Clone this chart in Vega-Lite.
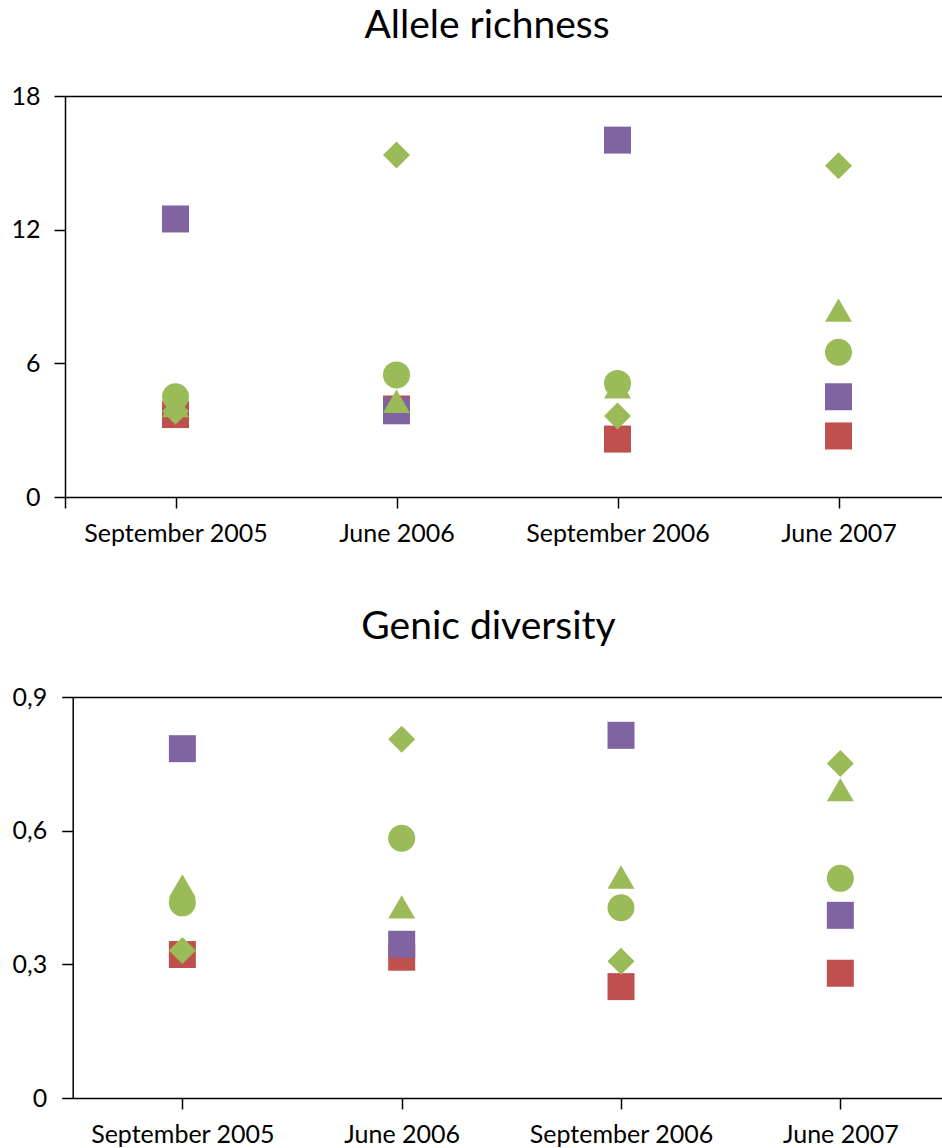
{
  "$schema": "https://vega.github.io/schema/vega-lite/v6.json",
  "padding": {"top": 7, "left": 10, "right": 0, "bottom": 0},
  "background": "white",
  "config": {
    "view": {"stroke": null},
    "font": "Lato",
    "title": {"fontSize": 39, "fontWeight": "normal", "color": "#000000", "font": "Lato"},
    "axis": {
      "domainColor": "#000000", "domainWidth": 1.5,
      "tickColor": "#000000", "tickWidth": 1.5, "tickSize": 11,
      "labelColor": "#000000", "labelFontSize": 25, "labelFont": "Lato", "labelLimit": 0,
      "title": null
    }
  },
  "datasets": {
    "allele": [
      {"period": "September 2005", "series": "Series 1", "value": 3.7},
      {"period": "June 2006", "series": "Series 1", "value": 3.95},
      {"period": "September 2006", "series": "Series 1", "value": 2.6},
      {"period": "June 2007", "series": "Series 1", "value": 2.74},
      {"period": "September 2005", "series": "Series 2", "value": 12.48},
      {"period": "June 2006", "series": "Series 2", "value": 3.87},
      {"period": "September 2006", "series": "Series 2", "value": 16.02},
      {"period": "June 2007", "series": "Series 2", "value": 4.5},
      {"period": "September 2005", "series": "Series 3", "value": 3.85},
      {"period": "June 2006", "series": "Series 3", "value": 15.35},
      {"period": "September 2006", "series": "Series 3", "value": 3.64},
      {"period": "June 2007", "series": "Series 3", "value": 14.87},
      {"period": "September 2005", "series": "Series 4", "value": 4.5},
      {"period": "June 2006", "series": "Series 4", "value": 5.48},
      {"period": "September 2006", "series": "Series 4", "value": 5.1},
      {"period": "June 2007", "series": "Series 4", "value": 6.5},
      {"period": "September 2005", "series": "Series 5", "value": 4.1},
      {"period": "June 2006", "series": "Series 5", "value": 4.3},
      {"period": "September 2006", "series": "Series 5", "value": 4.95},
      {"period": "June 2007", "series": "Series 5", "value": 8.39}
    ],
    "genic": [
      {"period": "September 2005", "series": "Series 1", "value": 0.322},
      {"period": "June 2006", "series": "Series 1", "value": 0.316},
      {"period": "September 2006", "series": "Series 1", "value": 0.25},
      {"period": "June 2007", "series": "Series 1", "value": 0.28},
      {"period": "September 2005", "series": "Series 2", "value": 0.784},
      {"period": "June 2006", "series": "Series 2", "value": 0.345},
      {"period": "September 2006", "series": "Series 2", "value": 0.814},
      {"period": "June 2007", "series": "Series 2", "value": 0.41},
      {"period": "September 2005", "series": "Series 3", "value": 0.331},
      {"period": "June 2006", "series": "Series 3", "value": 0.805},
      {"period": "September 2006", "series": "Series 3", "value": 0.307},
      {"period": "June 2007", "series": "Series 3", "value": 0.751},
      {"period": "September 2005", "series": "Series 4", "value": 0.438},
      {"period": "June 2006", "series": "Series 4", "value": 0.583},
      {"period": "September 2006", "series": "Series 4", "value": 0.427},
      {"period": "June 2007", "series": "Series 4", "value": 0.493},
      {"period": "September 2005", "series": "Series 5", "value": 0.476},
      {"period": "June 2006", "series": "Series 5", "value": 0.429},
      {"period": "September 2006", "series": "Series 5", "value": 0.496},
      {"period": "June 2007", "series": "Series 5", "value": 0.692}
    ]
  },
  "vconcat": [
    {
      "title": {"text": "Allele richness", "offset": 38, "dx": -20},
      "width": 884,
      "height": 401,
      "data": {"name": "allele"},
      "mark": {"type": "point", "filled": true, "opacity": 1, "strokeWidth": 0},
      "encoding": {
        "x": {
          "field": "period", "type": "nominal",
          "sort": ["September 2005", "June 2006", "September 2006", "June 2007"],
          "scale": {"paddingInner": 0, "paddingOuter": 0},
          "axis": {"bandPosition": 0, "tickExtra": true, "labelAngle": 0, "labelPadding": 13, "grid": false}
        },
        "y": {
          "field": "value", "type": "quantitative",
          "scale": {"domain": [0, 18], "nice": false},
          "axis": {
            "values": [0, 6, 12, 18], "labelPadding": 14, "minExtent": 55, "maxExtent": 55,
            "grid": true, "gridColor": {"condition": {"test": "datum.value == 18", "value": "#000000"}, "value": "transparent"}, "gridWidth": 1.5
          }
        },
        "color": {
          "field": "series", "type": "nominal", "legend": null,
          "scale": {"domain": ["Series 1", "Series 2", "Series 3", "Series 4", "Series 5"], "range": ["#C0504D", "#8064A2", "#9BBB59", "#9BBB59", "#9BBB59"]}
        },
        "shape": {
          "field": "series", "type": "nominal", "legend": null,
          "scale": {"domain": ["Series 1", "Series 2", "Series 3", "Series 4", "Series 5"], "range": ["square", "square", "diamond", "circle", "triangle-up"]}
        },
        "size": {
          "field": "series", "type": "nominal", "legend": null,
          "scale": {"domain": ["Series 1", "Series 2", "Series 3", "Series 4", "Series 5"], "range": [729, 729, 961, 784, 900]}
        }
      }
    },
    {
      "title": {"text": "Genic diversity", "offset": 38, "dx": -19},
      "width": 885,
      "height": 401,
      "data": {"name": "genic"},
      "mark": {"type": "point", "filled": true, "opacity": 1, "strokeWidth": 0},
      "encoding": {
        "x": {
          "field": "period", "type": "nominal",
          "sort": ["September 2005", "June 2006", "September 2006", "June 2007"],
          "scale": {"paddingInner": 0, "paddingOuter": 0, "range": [7.7, 885]},
          "axis": {"bandPosition": 0, "tickExtra": false, "labelAngle": 0, "labelPadding": 13, "grid": false}
        },
        "y": {
          "field": "value", "type": "quantitative",
          "scale": {"domain": [0, 0.9], "nice": false},
          "axis": {
            "values": [0, 0.3, 0.6, 0.9], "labelPadding": 15, "offset": -7.7,
            "labelExpr": "datum.value == 0 ? '0' : replace(format(datum.value, '.1f'), '.', ',')",
            "grid": true, "gridColor": {"condition": {"test": "datum.value == 0.9", "value": "#000000"}, "value": "transparent"}, "gridWidth": 1.5
          }
        },
        "color": {
          "field": "series", "type": "nominal", "legend": null,
          "scale": {"domain": ["Series 1", "Series 2", "Series 3", "Series 4", "Series 5"], "range": ["#C0504D", "#8064A2", "#9BBB59", "#9BBB59", "#9BBB59"]}
        },
        "shape": {
          "field": "series", "type": "nominal", "legend": null,
          "scale": {"domain": ["Series 1", "Series 2", "Series 3", "Series 4", "Series 5"], "range": ["square", "square", "diamond", "circle", "triangle-up"]}
        },
        "size": {
          "field": "series", "type": "nominal", "legend": null,
          "scale": {"domain": ["Series 1", "Series 2", "Series 3", "Series 4", "Series 5"], "range": [729, 729, 961, 784, 900]}
        }
      }
    }
  ],
  "spacing": 62,
  "resolve": {"scale": {"color": "independent", "shape": "independent", "size": "independent"}}
}
